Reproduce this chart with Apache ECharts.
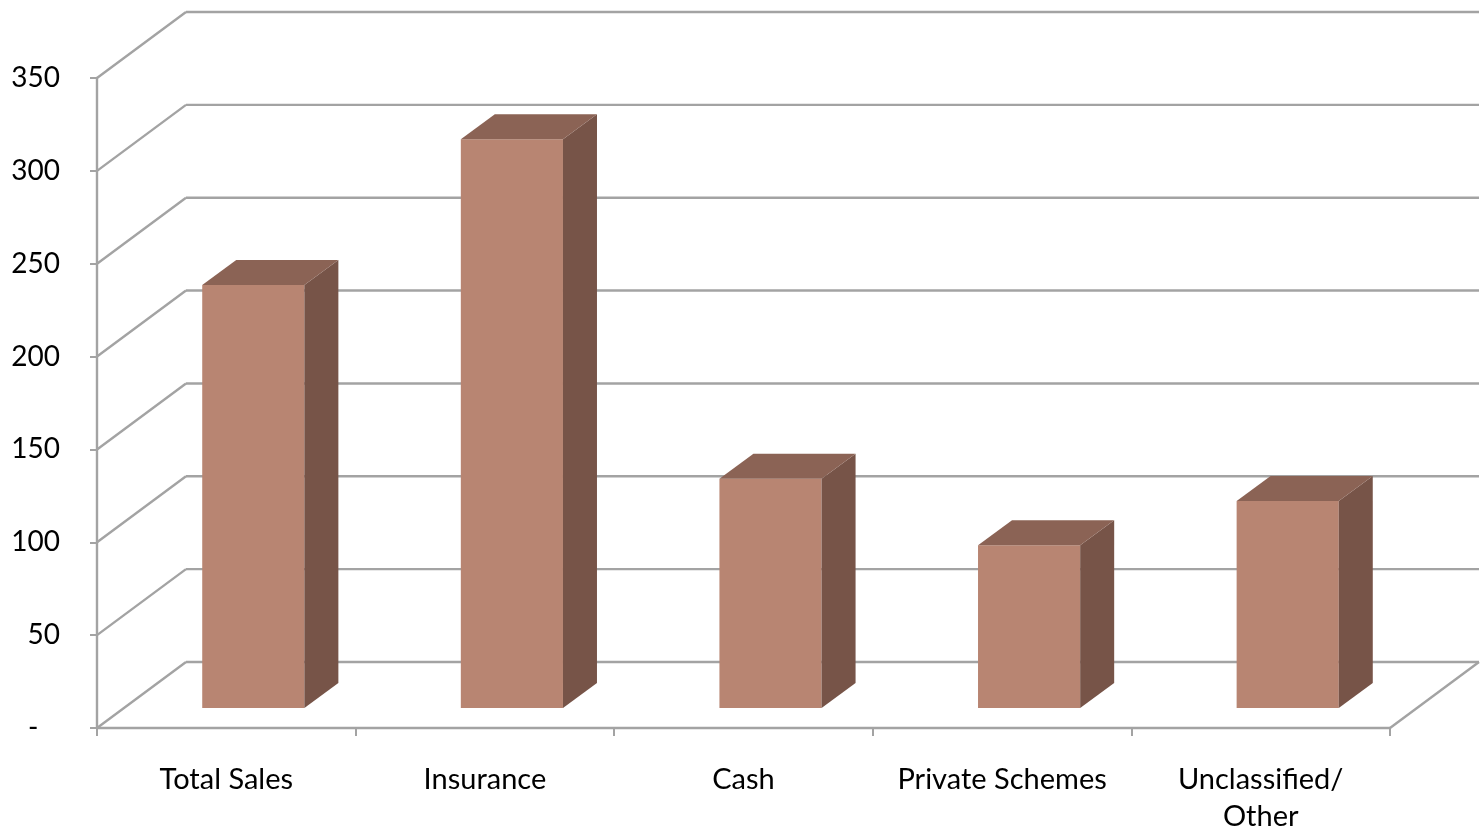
<!DOCTYPE html>
<html>
<head>
<meta charset="utf-8">
<script src="https://cdn.jsdelivr.net/npm/echarts@6/dist/echarts.min.js"></script>
<style>html,body{margin:0;padding:0;background:#fff;overflow:hidden;}#c{width:1482px;height:835px;}</style>
</head>
<body>
<div id="c"></div>
<script>
const categories = ['Total Sales', 'Insurance', 'Cash', 'Private Schemes', 'Unclassified/\nOther'];
const values = [227.8, 306.2, 123.4, 87.6, 111.5];
const yTicks = [0, 50, 100, 150, 200, 250, 300, 350];

const GRID = '#A3A3A3';
const DEPTH_X = 89, DEPTH_Y = 66;      // full depth of the 3D floor
const BAR_OFF_X = 27, BAR_OFF_Y = 20;  // bar front plane offset
const BAR_D_X = 34, BAR_D_Y = 25;      // bar depth
const BAR_W = 0.395;                   // fraction of band
const FRONT = '#B88572', TOP = '#8B6355', SIDE = '#775448';

const chart = echarts.init(document.getElementById('c'), null, {renderer: 'canvas', width: 1482, height: 835});

function renderWalls(params, api) {
  const bw = api.size([1, 0])[0];
  const left = api.coord([0, 0])[0] - bw / 2;
  const right = api.coord([categories.length - 1, 0])[0] + bw / 2;
  const farRight = right + DEPTH_X;
  const children = [];
  const ls = {stroke: GRID, lineWidth: 2.4};
  yTicks.forEach(v => {
    const y = api.coord([0, v])[1];
    children.push({type: 'line', shape: {x1: left, y1: y, x2: left + DEPTH_X, y2: y - DEPTH_Y}, style: ls});
    children.push({type: 'line', shape: {x1: left + DEPTH_X, y1: y - DEPTH_Y, x2: farRight, y2: y - DEPTH_Y}, style: ls});
  });
  const y0 = api.coord([0, 0])[1];
  children.push({type: 'line', shape: {x1: right, y1: y0, x2: farRight, y2: y0 - DEPTH_Y}, style: ls});
  return {type: 'group', children: children, silent: true};
}

function renderBar(params, api) {
  const i = api.value(0);
  const v = api.value(1);
  const base = api.coord([i, 0]);
  const topP = api.coord([i, v]);
  const bw = api.size([1, 0])[0];
  const w = bw * BAR_W;
  const cx = base[0] + BAR_OFF_X;
  const xl = cx - w / 2, xr = cx + w / 2;
  const yb = base[1] - BAR_OFF_Y;
  const yt = topP[1] - BAR_OFF_Y;
  return {
    type: 'group',
    children: [
      {type: 'rect', shape: {x: xl, y: yt, width: w, height: yb - yt}, style: {fill: FRONT}},
      {type: 'polygon', shape: {points: [[xr, yt], [xr + BAR_D_X, yt - BAR_D_Y], [xr + BAR_D_X, yb - BAR_D_Y], [xr, yb]]}, style: {fill: SIDE}},
      {type: 'polygon', shape: {points: [[xl, yt], [xr, yt], [xr + BAR_D_X, yt - BAR_D_Y], [xl + BAR_D_X, yt - BAR_D_Y]]}, style: {fill: TOP}}
    ]
  };
}

chart.setOption({
  animation: false,
  grid: {left: 97, width: 1293, top: 78, height: 659, containLabel: false},
  xAxis: {
    type: 'category',
    data: categories,
    boundaryGap: true,
    axisLine: {show: true, lineStyle: {color: GRID, width: 2.4}},
    axisTick: {show: true, length: 8, lineStyle: {color: GRID, width: 2}},
    axisLabel: {color: '#000', fontFamily: 'Lato', fontSize: 29, margin: 33, lineHeight: 37, interval: 0},
    splitLine: {show: false}
  },
  yAxis: {
    type: 'value',
    min: 0, max: 350, interval: 50,
    axisLine: {show: true, lineStyle: {color: GRID, width: 2.4}},
    axisTick: {show: true, length: 7, lineStyle: {color: GRID, width: 2}},
    axisLabel: {color: '#000', fontFamily: 'Lato', fontSize: 28, margin: 37,
      formatter: v => v === 0 ? '-   ' : String(v)},
    splitLine: {show: false}
  },
  series: [
    {type: 'custom', name: 'walls', data: [[0, 0]], renderItem: renderWalls, silent: true, z: 1, clip: false},
    {type: 'custom', name: 'values', data: values.map((v, i) => [i, v]), renderItem: renderBar, z: 2, clip: false,
     encode: {x: 0, y: 1}}
  ]
});
</script>
</body>
</html>
